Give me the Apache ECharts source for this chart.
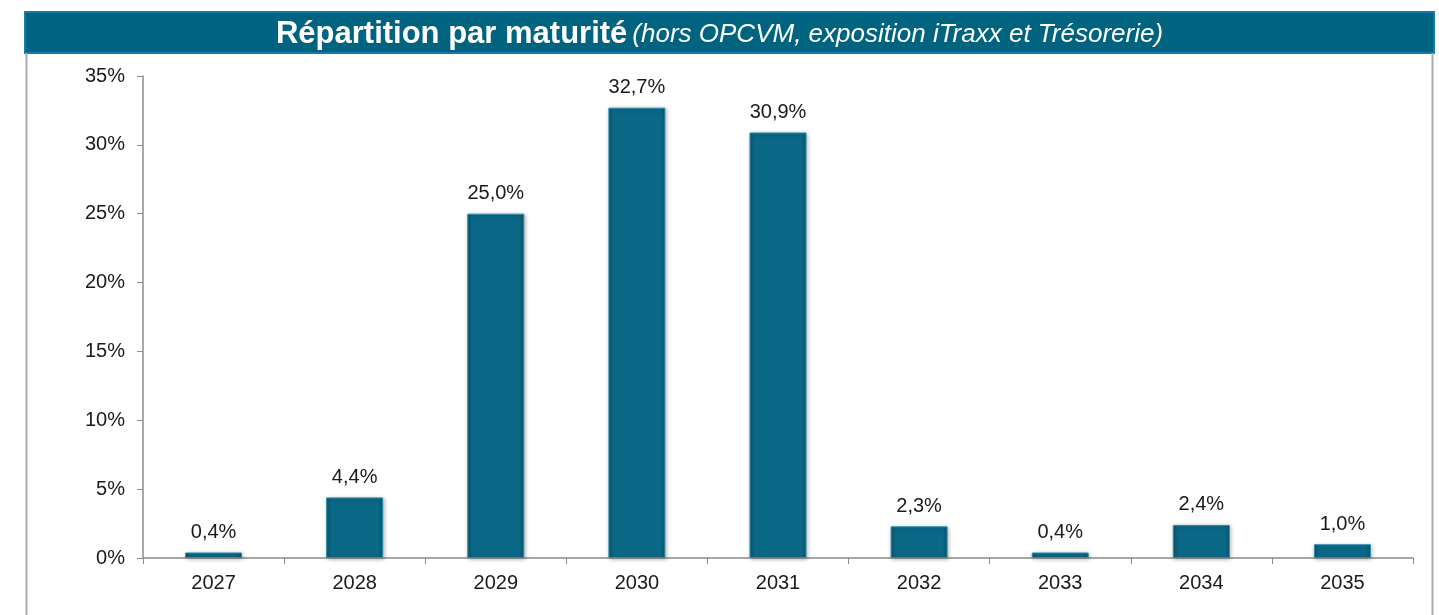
<!DOCTYPE html>
<html>
<head>
<meta charset="utf-8">
<script src="https://cdn.jsdelivr.net/npm/echarts@6/dist/echarts.min.js"></script>
<style>
  html, body { margin: 0; padding: 0; background: #fff; }
  #chart { width: 1439px; height: 615px; }
</style>
</head>
<body>
<div id="chart"></div>
<script>
// années de maturité
var years = ['2027', '2028', '2029', '2030', '2031', '2032', '2033', '2034', '2035']
// répartition en %
var shares = [0.4, 4.4, 25.0, 32.7, 30.9, 2.3, 0.4, 2.4, 1.0]
var yTicks = [0, 5, 10, 15, 20, 25, 30, 35]

var myChart = echarts.init(document.getElementById('chart'))

var barColor = new echarts.graphic.LinearGradient(0, 0, 1, 0, [
  { offset: 0, color: '#0a5369' },
  { offset: 0.08, color: '#0b6886' },
  { offset: 0.92, color: '#0b6886' },
  { offset: 1, color: '#0a5369' }
])

myChart.setOption({
  animation: false,
  textStyle: { fontFamily: 'Liberation Sans, Arial, sans-serif' },
  title: {
    text: '{b|Répartition par maturité} {i|(hors OPCVM, exposition iTraxx et Trésorerie)}',
    left: 'center',
    top: 14,
    textStyle: {
      rich: {
        b: { color: '#fff', fontSize: 31, fontWeight: 'bold', fontFamily: 'Liberation Sans, Arial' },
        i: { color: '#fff', fontSize: 26, fontStyle: 'italic', fontWeight: 'normal', fontFamily: 'Liberation Sans, Arial' }
      }
    }
  },
  graphic: [
    { type: 'rect', z: -1, shape: { x: 25, y: 12, width: 1409, height: 41 },
      style: { fill: '#006480', stroke: '#1479ad', lineWidth: 2 } },
    { type: 'line', z: -1, shape: { x1: 26.5, y1: 53, x2: 26.5, y2: 615 },
      style: { stroke: '#a9abae', lineWidth: 2 } },
    { type: 'line', z: -1, shape: { x1: 1432.5, y1: 53, x2: 1432.5, y2: 615 },
      style: { stroke: '#a9abae', lineWidth: 2 } }
  ],
  grid: { left: 143, right: 26, top: 76, bottom: 57 },
  xAxis: {
    type: 'category',
    data: years,
    axisLine: { lineStyle: { color: '#8c8c8c', width: 1.5 } },
    axisTick: { show: true, length: 6, lineStyle: { color: '#8c8c8c' } },
    axisLabel: { color: '#1a1a1a', fontSize: 20, margin: 15 }
  },
  yAxis: {
    type: 'value',
    min: yTicks[0],
    max: yTicks[yTicks.length - 1],
    interval: 5,
    splitLine: { show: false },
    axisLine: { show: true, lineStyle: { color: '#8c8c8c', width: 1.5 } },
    axisTick: { show: true, length: 6, lineStyle: { color: '#8c8c8c' } },
    axisLabel: { color: '#1a1a1a', fontSize: 20, margin: 18, formatter: '{value}%' }
  },
  series: [{
    type: 'bar',
    data: shares,
    barWidth: 57,
    itemStyle: {
      color: barColor,
      borderColor: '#2a8fae',
      borderWidth: 1,
      shadowColor: 'rgba(0,0,0,0.3)',
      shadowBlur: 4,
      shadowOffsetX: 1,
      shadowOffsetY: 1
    },
    label: {
      show: true,
      position: 'top',
      distance: 10,
      color: '#1a1a1a',
      fontSize: 20,
      formatter: function (p) { return p.value.toFixed(1).replace('.', ',') + '%' }
    }
  }]
})
</script>
</body>
</html>
